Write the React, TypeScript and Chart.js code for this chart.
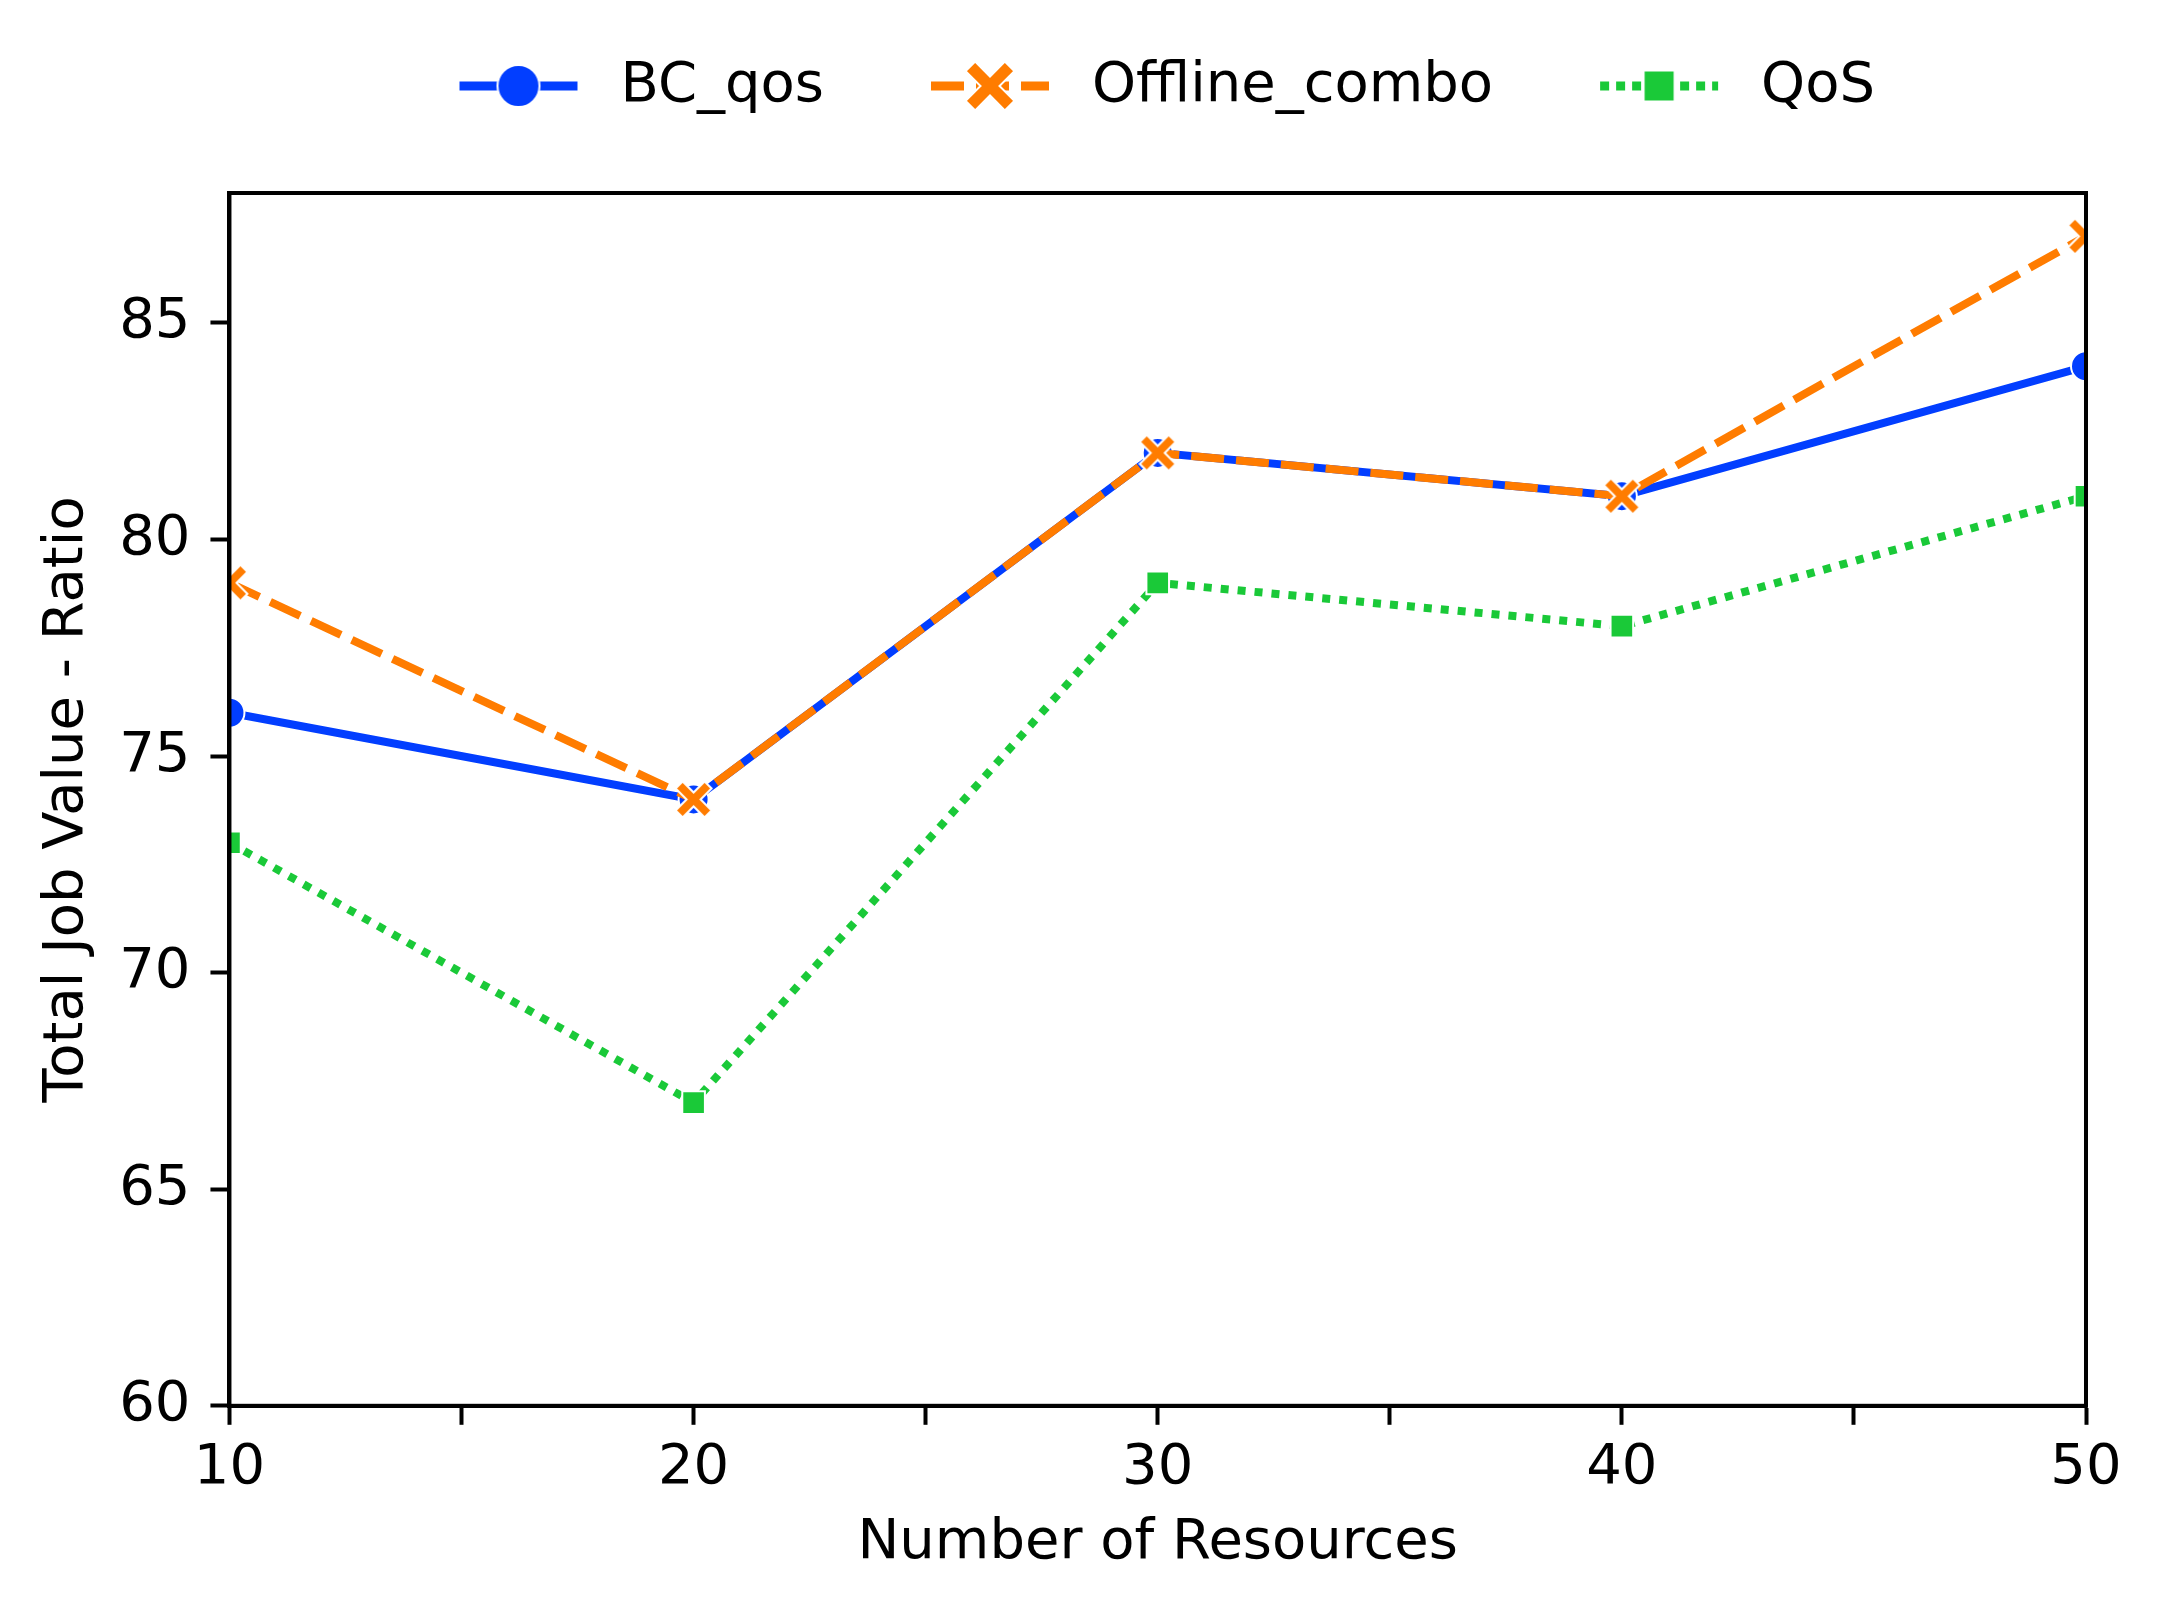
import { useEffect, useRef } from 'react';
import { Chart, registerables } from 'chart.js';

Chart.register(...registerables);

const resources = [10, 20, 30, 40, 50];
const bcQos = [76, 74, 82, 81, 84];
const offlineCombo = [79, 74, 82, 81, 87];
const qos = [73, 67, 79, 78, 81];

const xTicks = [10, 15, 20, 25, 30, 35, 40, 45, 50];
const xLabels = [10, 20, 30, 40, 50];
const yTicks = [60, 65, 70, 75, 80, 85];

const BLUE = '#023eff';
const ORANGE = '#ff7c00';
const GREEN = '#1ac938';
const FONT = 'DejaVu Sans';

type MarkerKind = 'circle' | 'x' | 'square';

function drawMarker(ctx: CanvasRenderingContext2D, kind: MarkerKind, cx: number, cy: number, size: number, color: string) {
  ctx.save();
  ctx.translate(cx, cy);
  ctx.fillStyle = color;
  ctx.strokeStyle = '#fff';
  ctx.lineWidth = 2;
  ctx.setLineDash([]);
  ctx.beginPath();
  if (kind === 'circle') {
    ctx.arc(0, 0, size / 2, 0, Math.PI * 2);
  } else if (kind === 'square') {
    ctx.rect(-size / 2, -size / 2, size, size);
  } else {
    ctx.rotate(Math.PI / 4);
    const a = size * 0.16;
    const l = size * 0.66;
    const pts = [
      [-a, -l], [a, -l], [a, -a], [l, -a], [l, a], [a, a],
      [a, l], [-a, l], [-a, a], [-l, a], [-l, -a], [-a, -a],
    ];
    pts.forEach(([x, y], i) => (i === 0 ? ctx.moveTo(x, y) : ctx.lineTo(x, y)));
    ctx.closePath();
  }
  ctx.fill();
  ctx.stroke();
  ctx.restore();
}

function markerCanvas(size: number) {
  const c = document.createElement('canvas');
  const s = Math.ceil(size * 1.1) + 4;
  c.width = s;
  c.height = s;
  const ctx = c.getContext('2d');
  if (ctx) drawMarker(ctx, 'x', s / 2, s / 2, size, ORANGE);
  return c;
}

function legendCanvas(kind: MarkerKind, color: string, dash: number[], markerSize: number) {
  const c = document.createElement('canvas');
  c.width = 200;
  c.height = 54;
  const ctx = c.getContext('2d');
  if (ctx) {
    ctx.strokeStyle = color;
    ctx.lineWidth = 9;
    ctx.lineCap = 'butt';
    ctx.setLineDash(dash);
    ctx.beginPath();
    ctx.moveTo(67, 27);
    ctx.lineTo(185, 27);
    ctx.stroke();
    drawMarker(ctx, kind, 126, 27, markerSize, color);
  }
  return c;
}

const framePlugin = {
  id: 'frame',
  afterDraw(chart: Chart) {
    const { ctx, chartArea } = chart;
    ctx.save();
    ctx.strokeStyle = '#000';
    ctx.lineWidth = 4;
    ctx.strokeRect(chartArea.left, chartArea.top, chartArea.right - chartArea.left, chartArea.bottom - chartArea.top);
    ctx.restore();
  },
};

// extra room under the legend, and nudge it a little to the left
const legendGapPlugin = {
  id: 'legendGap',
  beforeInit(chart: any) {
    const legend = chart.legend;
    if (!legend) return;
    const fit = legend.fit;
    legend.fit = function () {
      fit.call(this);
      this.height += 69;
    };
  },
  afterLayout(chart: any) {
    if (!chart.legend) return;
    chart.legend.left -= 24;
    chart.legend.right -= 24;
  },
};

export default function App() {
  const canvasRef = useRef<HTMLCanvasElement>(null);
  const chartRef = useRef<Chart | null>(null);

  useEffect(() => {
    if (!canvasRef.current) return;
    const ctx = canvasRef.current.getContext('2d');
    if (!ctx) return;
    if (chartRef.current) chartRef.current.destroy();

    const xMarker = markerCanvas(31);
    const legendImgs = [
      legendCanvas('circle', BLUE, [], 42),
      legendCanvas('x', ORANGE, [33, 12], 42),
      legendCanvas('square', GREEN, [9, 7], 31),
    ];
    const names = ['BC_qos', 'Offline_combo', 'QoS'];

    chartRef.current = new Chart(ctx, {
      type: 'line',
      data: {
        datasets: [
          {
            label: 'BC_qos',
            data: resources.map((x, i) => ({ x, y: bcQos[i] })),
            borderColor: BLUE,
            backgroundColor: BLUE,
            borderWidth: 8,
            pointStyle: 'circle',
            pointRadius: 15,
            pointBorderWidth: 2,
            pointBorderColor: '#fff',
            pointBackgroundColor: BLUE,
            order: 3,
            clip: 0,
          },
          {
            label: 'Offline_combo',
            data: resources.map((x, i) => ({ x, y: offlineCombo[i] })),
            borderColor: ORANGE,
            backgroundColor: ORANGE,
            borderWidth: 8,
            borderDash: [33, 12],
            pointStyle: xMarker,
            pointRadius: 15,
            order: 2,
            clip: 0,
          },
          {
            label: 'QoS',
            data: resources.map((x, i) => ({ x, y: qos[i] })),
            borderColor: GREEN,
            backgroundColor: GREEN,
            borderWidth: 8,
            borderDash: [8, 9],
            pointStyle: 'rect',
            pointRadius: 16,
            pointBorderWidth: 2,
            pointBorderColor: '#fff',
            pointBackgroundColor: GREEN,
            order: 1,
            clip: 0,
          },
        ],
      },
      options: {
        responsive: true,
        maintainAspectRatio: false,
        animation: false,
        layout: { padding: { top: 18, right: 75, bottom: 39, left: 0 } },
        plugins: {
          tooltip: { enabled: false },
          legend: {
            position: 'top',
            fullSize: false,
            labels: {
              usePointStyle: true,
              pointStyleWidth: 200,
              padding: 40,
              color: '#000',
              font: { family: FONT, size: 56 },
              generateLabels: () =>
                names.map((text, i) => ({
                  text,
                  pointStyle: legendImgs[i],
                  fillStyle: 'transparent',
                  strokeStyle: 'transparent',
                  lineWidth: 0,
                  hidden: false,
                  datasetIndex: i,
                  fontColor: '#000',
                })),
            },
          },
        },
        scales: {
          x: {
            type: 'linear',
            min: 10,
            max: 50,
            afterBuildTicks: (scale: any) => {
              scale.ticks = xTicks.map((value) => ({ value }));
            },
            ticks: {
              color: '#000',
              font: { family: FONT, size: 56 },
              padding: 10,
              maxRotation: 0,
              autoSkip: false,
              callback: (value: any) => (xLabels.includes(Number(value)) ? String(value) : ''),
            },
            grid: { drawOnChartArea: false, tickLength: 19, tickWidth: 4, color: '#000' },
            border: { color: '#000', width: 4 },
            title: {
              display: true,
              text: 'Number of Resources',
              color: '#000',
              font: { family: FONT, size: 56, lineHeight: 1.0 },
              padding: { top: 3, bottom: 0 },
            },
          },
          y: {
            type: 'linear',
            min: 60,
            max: 88,
            afterBuildTicks: (scale: any) => {
              scale.ticks = yTicks.map((value) => ({ value }));
            },
            ticks: {
              color: '#000',
              font: { family: FONT, size: 56 },
              padding: 20,
            },
            grid: { drawOnChartArea: false, tickLength: 19, tickWidth: 4, color: '#000' },
            border: { color: '#000', width: 4 },
            title: {
              display: true,
              text: 'Total Job Value - Ratio',
              color: '#000',
              font: { family: FONT, size: 56 },
              padding: { top: 34, bottom: -2 },
            },
          },
        },
      },
      plugins: [framePlugin, legendGapPlugin],
    });

    return () => {
      if (chartRef.current) {
        chartRef.current.destroy();
        chartRef.current = null;
      }
    };
  }, []);

  return (
    <div style={{ position: 'absolute', left: 0, top: 0, width: 2161, height: 1610, background: '#fff' }}>
      <canvas ref={canvasRef}></canvas>
    </div>
  );
}
